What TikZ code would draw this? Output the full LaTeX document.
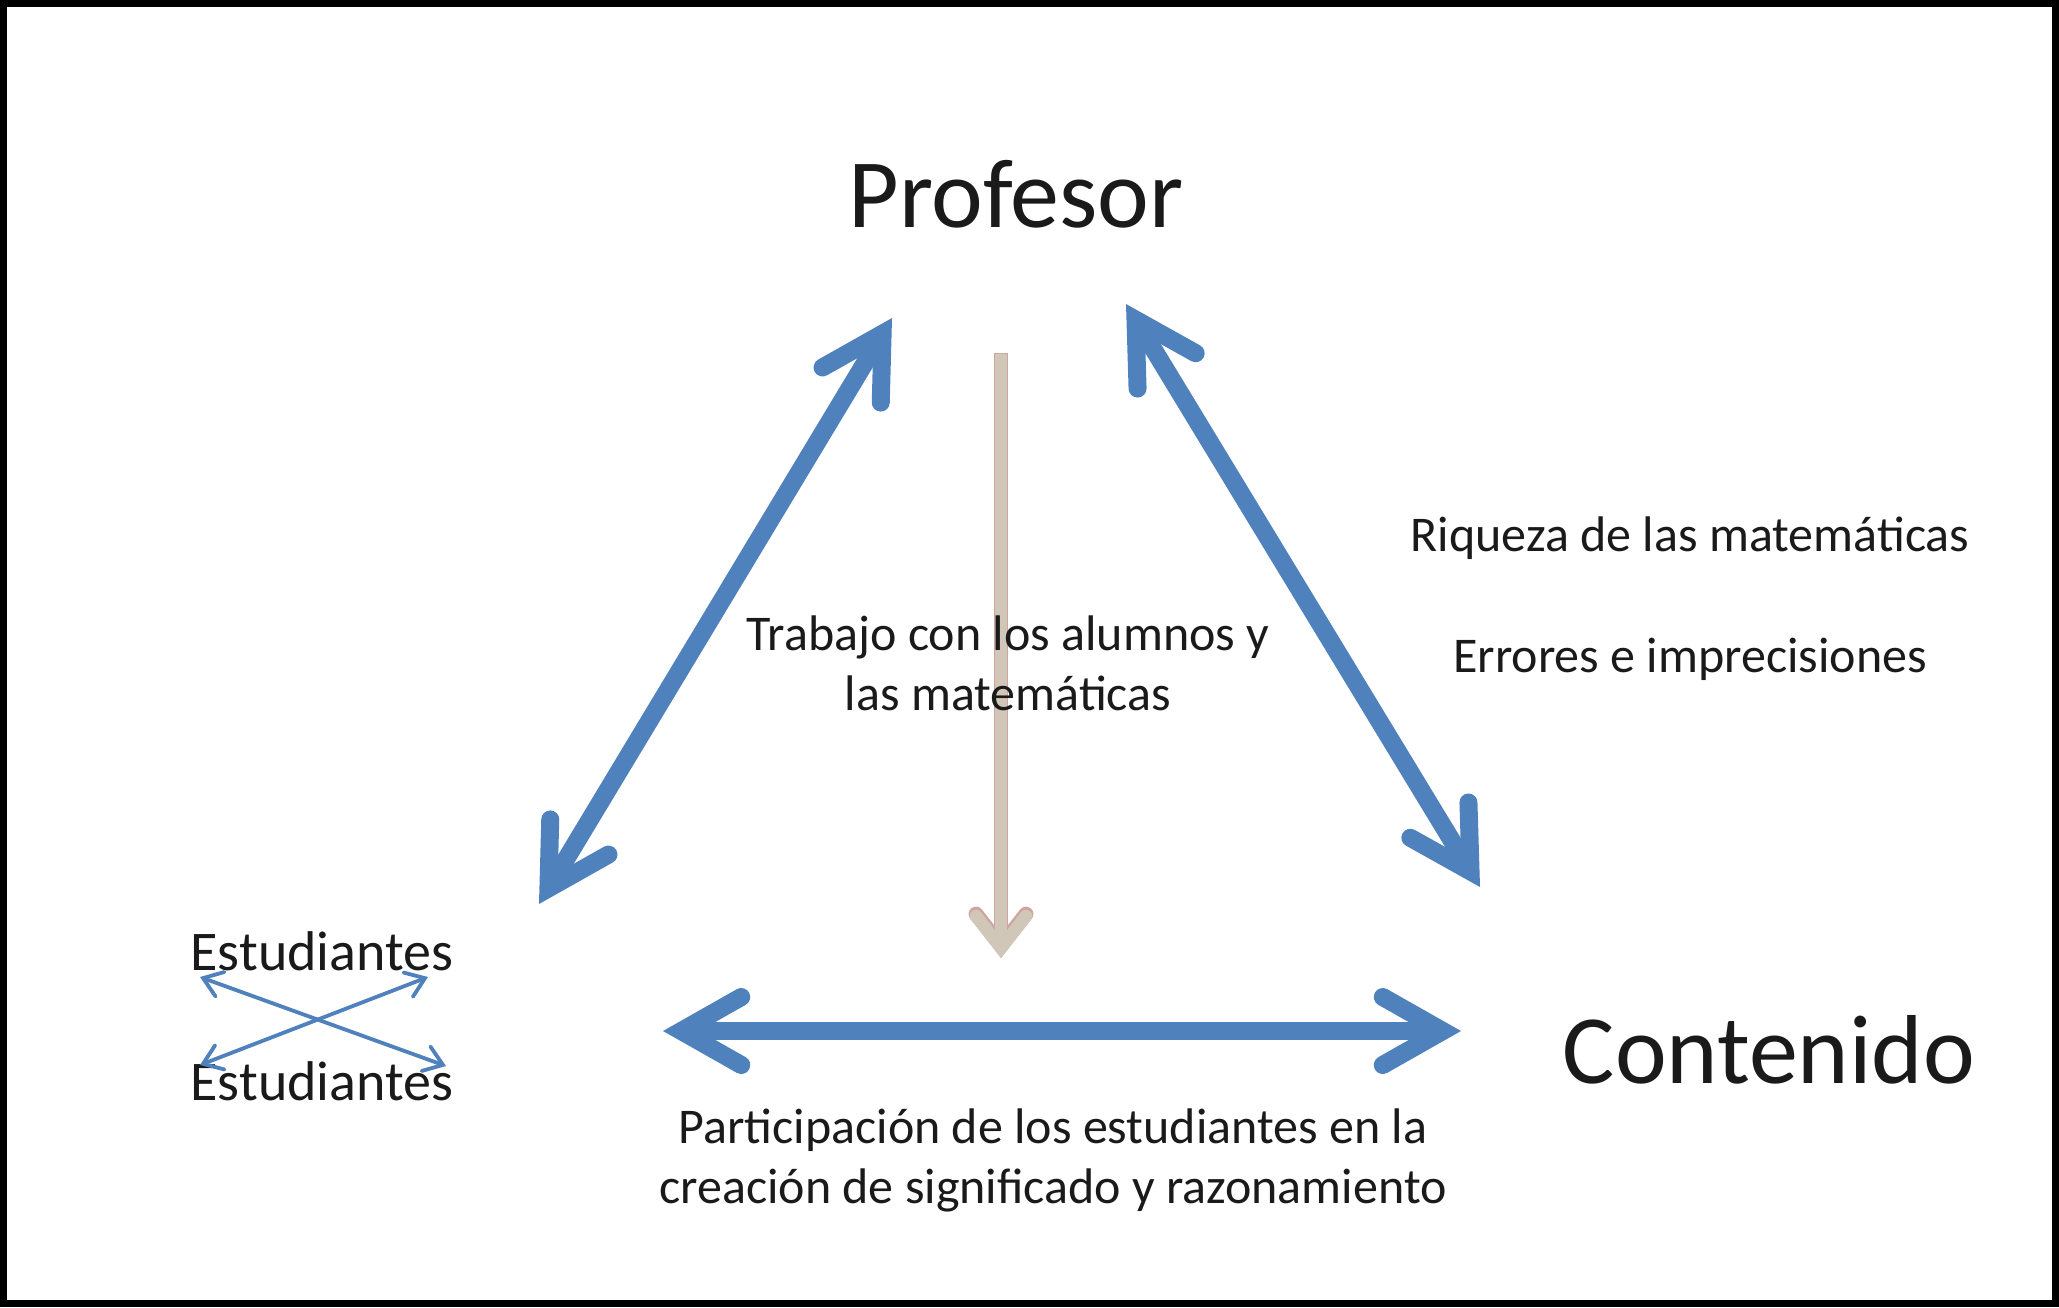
\documentclass[tikz,border=0pt]{standalone}
\usepackage{fontspec}
\setmainfont{Carlito}
\usetikzlibrary{arrows.meta}
\definecolor{pblue}{HTML}{4F81BD}
\definecolor{beigefill}{HTML}{D0C7B8}
\definecolor{beigeline}{HTML}{CFA69E}
\definecolor{txt}{HTML}{1A1A1A}
\begin{document}
\begin{tikzpicture}[x=0.5pt,y=-0.5pt,
  bigtip/.tip={Straight Barb[length=30pt,width=34pt,line cap=round]},
  bigarrow/.style={pblue, line width=9pt, bigtip-bigtip},
  smalltip/.tip={Straight Barb[length=9pt,width=13pt,line cap=round]},
  smallarrow/.style={pblue, line width=1.9pt, smalltip-smalltip},
  btip/.tip={Straight Barb[length=16pt,width=25pt,line cap=round]},
  beigeout/.style={beigeline, line width=7.4pt, -btip},
  beigein/.style={beigefill, line width=6.2pt, -btip},
  big label/.style={anchor=base, inner sep=0pt, text=txt, font=\fontsize{49pt}{58pt}\selectfont},
  mid label/.style={anchor=base, inner sep=0pt, text=txt, font=\fontsize{28pt}{34pt}\selectfont},
  label text/.style={anchor=base, inner sep=0pt, text=txt, align=center, font=\fontsize{25pt}{30pt}\selectfont}
]
\useasboundingbox (0,0) rectangle (2059,1307);
\fill[white] (0,0) rectangle (2059,1307);
\draw[black, line width=3.5pt] (3.5,3.5) rectangle (2055.5,1303.5);

% arrow end points
\coordinate (lt) at (892,318);
\coordinate (lb) at (539,904);
\coordinate (rt) at (1126,304);
\coordinate (rb) at (1480,887);
\coordinate (hl) at (663,1031);
\coordinate (hr) at (1461,1031);
\coordinate (bt0) at (1001,352.8);
\coordinate (bt) at (1001,354);
\coordinate (bb) at (1001,958);
\coordinate (e1a) at (200,977);
\coordinate (e1b) at (446,1066);
\coordinate (e2a) at (200,1065);
\coordinate (e2b) at (428,977);

% beige arrow (behind the text)
\draw[beigeout] (bt0) -- (bb);
\draw[beigein] (bt) -- (bb);

% labels
\node[big label] (prof) at (1016,227) {Profesor};
\node[big label] (cont) at (1769,1083) {Contenido};
\node[mid label] (est1) at (322,970) {Estudiantes};
\node[mid label] (est2) at (322,1100) {Estudiantes};
\node[label text] (trab) at (1008,710) {Trabajo con los alumnos y\\las matemáticas};
\node[label text] (riq) at (1690,551) {Riqueza de las matemáticas};
\node[label text] (err) at (1690,672) {Errores e imprecisiones};
\node[label text] (part) at (1053,1203) {Participación de los estudiantes en la\\creación de significado y razonamiento};

% blue arrows
\draw[bigarrow] (lb) -- (lt);
\draw[bigarrow] (rt) -- (rb);
\draw[bigarrow] (hl) -- (hr);
\draw[smallarrow] (e1a) -- (e1b);
\draw[smallarrow] (e2a) -- (e2b);
\end{tikzpicture}
\end{document}
